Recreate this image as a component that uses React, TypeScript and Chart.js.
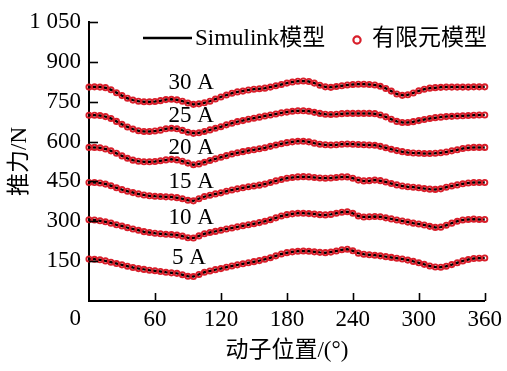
import React, { useEffect, useRef } from 'react';
import { Chart, registerables } from 'chart.js';
Chart.register(...registerables);

const angles = [0, 5, 10, 15, 20, 25, 30, 35, 40, 45, 50, 55, 60, 65, 70, 75, 80, 85, 90, 95, 100, 105, 110, 115, 120, 125, 130, 135, 140, 145, 150, 155, 160, 165, 170, 175, 180, 185, 190, 195, 200, 205, 210, 215, 220, 225, 230, 235, 240, 245, 250, 255, 260, 265, 270, 275, 280, 285, 290, 295, 300, 305, 310, 315, 320, 325, 330, 335, 340, 345, 350, 355, 360];

const force5A = [158, 157, 155, 151, 146, 141, 136, 131, 126, 122, 119, 116, 114, 111, 108, 106, 104, 99, 93, 92, 100, 108, 113, 118, 122, 127, 132, 136, 140, 144, 148, 152, 157, 163, 170, 177, 182, 185, 187, 188, 187, 185, 183, 182, 184, 188, 193, 195, 189, 180, 176, 174, 172, 170, 167, 164, 161, 158, 154, 149, 144, 138, 132, 128, 127, 131, 137, 144, 151, 156, 160, 161, 162];
const force10A = [306, 305, 302, 298, 293, 287, 282, 276, 271, 266, 261, 258, 255, 253, 251, 250, 248, 244, 238, 237, 245, 253, 258, 262, 266, 271, 275, 279, 283, 287, 291, 295, 300, 306, 313, 320, 325, 328, 330, 330, 329, 327, 325, 324, 326, 330, 334, 336, 330, 320, 316, 317, 318, 317, 313, 309, 305, 301, 297, 293, 290, 286, 281, 277, 278, 285, 293, 300, 305, 307, 308, 307, 307];
const force15A = [446, 446, 444, 440, 434, 426, 419, 413, 408, 403, 399, 396, 394, 393, 392, 391, 389, 385, 379, 377, 385, 393, 398, 403, 407, 413, 418, 422, 426, 430, 433, 436, 440, 446, 452, 457, 462, 465, 467, 468, 467, 465, 463, 462, 463, 465, 467, 467, 462, 455, 452, 453, 455, 453, 448, 442, 437, 433, 430, 428, 426, 423, 421, 420, 422, 428, 433, 437, 441, 444, 446, 446, 446];
const force20A = [578, 578, 577, 572, 565, 556, 546, 537, 530, 526, 524, 524, 525, 528, 531, 533, 531, 526, 519, 513, 516, 522, 529, 535, 541, 547, 553, 558, 562, 566, 569, 573, 577, 582, 587, 592, 596, 599, 601, 601, 599, 594, 590, 588, 587, 588, 590, 591, 590, 589, 588, 587, 586, 582, 577, 571, 566, 562, 559, 557, 556, 555, 555, 556, 558, 561, 565, 569, 574, 577, 578, 578, 578];
const force25A = [699, 699, 698, 694, 687, 676, 665, 655, 647, 641, 638, 638, 640, 643, 648, 650, 648, 642, 635, 631, 633, 638, 644, 650, 656, 663, 669, 675, 679, 684, 688, 692, 696, 700, 704, 708, 711, 714, 716, 716, 714, 710, 706, 703, 702, 703, 705, 706, 706, 706, 706, 706, 705, 700, 693, 684, 676, 672, 672, 675, 679, 683, 687, 690, 692, 694, 695, 696, 697, 698, 699, 700, 700];
const force30A = [805, 806, 805, 803, 795, 784, 773, 763, 756, 752, 750, 750, 751, 754, 758, 759, 757, 752, 745, 740, 742, 746, 752, 760, 768, 775, 782, 787, 790, 794, 797, 799, 801, 805, 810, 815, 820, 824, 827, 828, 826, 820, 812, 806, 804, 807, 810, 813, 815, 816, 816, 815, 813, 808, 800, 790, 779, 774, 776, 783, 791, 797, 801, 803, 804, 805, 805, 805, 805, 805, 806, 806, 806];

const seriesForces = [force5A, force10A, force15A, force20A, force25A, force30A];
const currentLabels = ['5 A', '10 A', '15 A', '20 A', '25 A', '30 A'];
const labelAngles = [91, 93, 93, 93, 93, 93];
const labelForces = [162, 312, 449, 576, 696, 820];

const legendNames = ['Simulink模型', '有限元模型'];
const xTitle = '动子位置/(°)';
const yTitle = '推力/N';

const FONT = "'Liberation Serif', 'Times New Roman', 'Noto Sans CJK SC', serif";
const FS = 23;
const RED = '#d81e2a';

const decorPlugin = {
  id: 'decor',
  afterDraw(chart: any) {
    const ctx = chart.ctx;
    const xs = chart.scales.x;
    const ys = chart.scales.y;
    const area = chart.chartArea;
    ctx.save();
    ctx.strokeStyle = '#000';
    ctx.lineWidth = 1.6;
    ys.ticks.forEach((t: any) => {
      if (t.value === 0) return;
      const y = Math.round(ys.getPixelForValue(t.value)) + 0.5;
      ctx.beginPath();
      ctx.moveTo(area.left, y);
      ctx.lineTo(area.left + 9, y);
      ctx.stroke();
    });
    xs.ticks.forEach((t: any) => {
      if (t.value === 0) return;
      const x = Math.round(xs.getPixelForValue(t.value)) + 0.5;
      ctx.beginPath();
      ctx.moveTo(x, area.bottom);
      ctx.lineTo(x, area.bottom - 8);
      ctx.stroke();
    });
    ctx.fillStyle = '#000';
    ctx.font = `${FS}px ${FONT}`;
    ctx.textAlign = 'right';
    ctx.textBaseline = 'middle';
    ctx.fillText('0', area.left - 8, xs.top + 18);
    ctx.textAlign = 'center';
    currentLabels.forEach((txt, i) => {
      ctx.fillText(txt, xs.getPixelForValue(labelAngles[i]), ys.getPixelForValue(labelForces[i]));
    });
    ctx.textAlign = 'left';
    ctx.strokeStyle = '#000';
    ctx.lineWidth = 2.5;
    ctx.beginPath();
    ctx.moveTo(143, 38);
    ctx.lineTo(192, 38);
    ctx.stroke();
    ctx.fillText(legendNames[0], 195, 39);
    ctx.strokeStyle = RED;
    ctx.lineWidth = 2.2;
    ctx.beginPath();
    ctx.arc(357, 40, 3.6, 0, Math.PI * 2);
    ctx.stroke();
    ctx.fillText(legendNames[1], 372, 39);
    ctx.restore();
  },
};

export default function App() {
  const ref = useRef<HTMLCanvasElement>(null);
  useEffect(() => {
    document.body.style.margin = '0';
    const datasets: any[] = [];
    seriesForces.forEach((arr, i) => {
      const pts = angles.map((a, j) => ({ x: a, y: arr[j] }));
      datasets.push({
        label: legendNames[0] + i,
        data: pts,
        borderColor: '#000',
        borderWidth: 2.5,
        pointRadius: 0,
        showLine: true,
        fill: false,
        order: 1,
        clip: false,
      });
      datasets.push({
        label: legendNames[1] + i,
        data: pts,
        borderColor: RED,
        pointBorderColor: RED,
        pointBackgroundColor: 'rgba(0,0,0,0)',
        pointRadius: 2.6,
        pointBorderWidth: 1.9,
        showLine: false,
        order: 0,
        clip: false,
      });
    });
    const chart = new Chart(ref.current as HTMLCanvasElement, {
      type: 'scatter',
      data: { datasets },
      options: {
        animation: false,
        responsive: false,
        devicePixelRatio: 1,
        layout: { padding: { top: 22, right: 18, left: 0, bottom: 0 } },
        plugins: { legend: { display: false }, tooltip: { enabled: false } },
        scales: {
          x: {
            type: 'linear',
            min: 0,
            max: 360,
            afterFit: (s: any) => { s.height = 70; },
            grid: { display: false, drawTicks: false },
            border: { color: '#000', width: 2 },
            ticks: {
              stepSize: 60,
              padding: 5,
              color: '#000',
              font: { family: FONT, size: FS },
              callback: (v: any) => (v === 0 ? '' : String(v)),
            },
            title: {
              display: true,
              text: xTitle,
              color: '#000',
              font: { family: FONT, size: FS },
              padding: { top: 0, bottom: 6 },
            },
          },
          y: {
            type: 'linear',
            min: 0,
            max: 1050,
            afterFit: (s: any) => { s.width = 89; },
            grid: { display: false, drawTicks: false },
            border: { color: '#000', width: 2 },
            ticks: {
              stepSize: 150,
              padding: 8,
              color: '#000',
              font: { family: FONT, size: FS },
              callback: (v: any) => (v === 0 ? '' : v === 1050 ? '1 050' : String(v)),
            },
            title: {
              display: true,
              text: yTitle,
              color: '#000',
              font: { family: FONT, size: FS },
              padding: { top: 6, bottom: 0 },
            },
          },
        },
      },
      plugins: [decorPlugin],
    } as any);
    return () => chart.destroy();
  }, []);
  return (
    <div style={{ position: 'fixed', left: 0, top: 0, width: 507, height: 371 }}>
      <canvas ref={ref} width={507} height={371} />
    </div>
  );
}
